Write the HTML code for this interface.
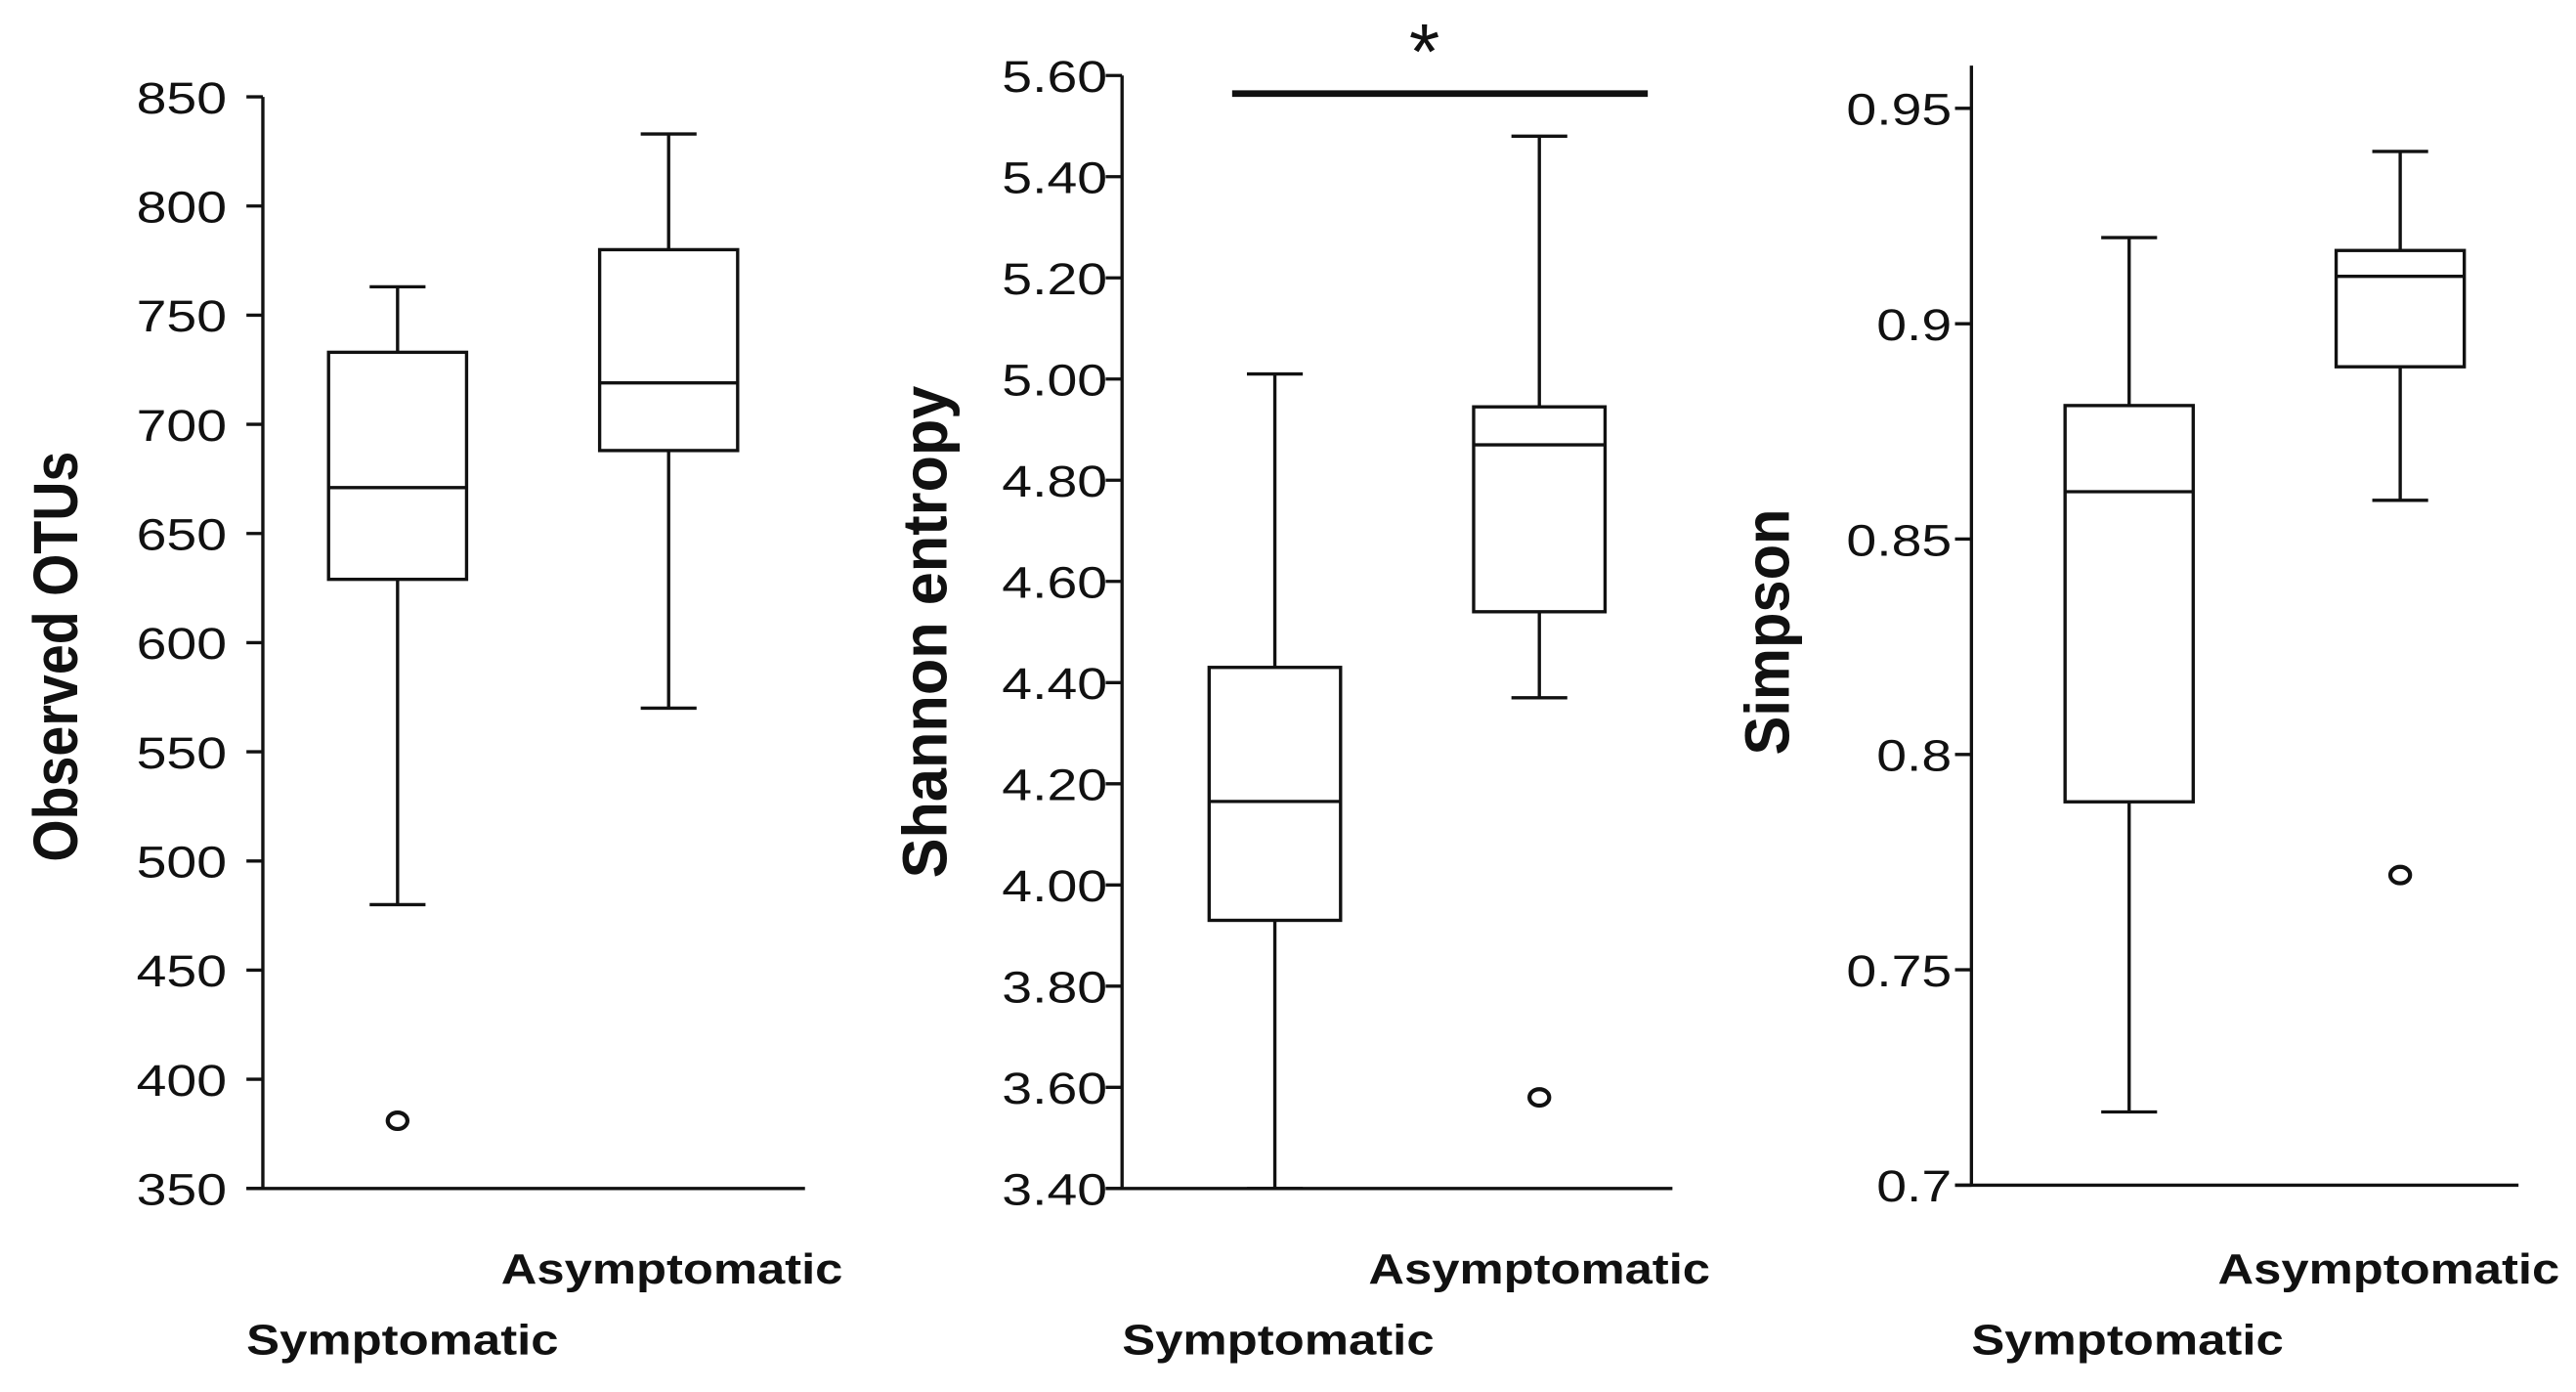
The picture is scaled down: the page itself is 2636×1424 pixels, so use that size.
<!DOCTYPE html>
<html><head><meta charset="utf-8"><style>
html,body{margin:0;padding:0;background:#fff;}
svg{display:block;}
text{font-family:"Liberation Sans",sans-serif;fill:#111;}
</style></head><body>
<svg id="chart" width="2636" height="1424" viewBox="0 0 1568 848" preserveAspectRatio="none" xmlns="http://www.w3.org/2000/svg"></svg>
<script>
const categories = ["Symptomatic", "Asymptomatic"];
// [whiskerLow, q1, median, q3, whiskerHigh]
const otuStats = [[480, 629, 671, 733, 763], [570, 688, 719, 780, 833]];
const otuOutliers = [[381], []];
const otuTicks = ["350","400","450","500","550","600","650","700","750","800","850"];
const shannonStats = [[3.40, 3.93, 4.165, 4.43, 5.01], [4.37, 4.54, 4.87, 4.945, 5.48]];
const shannonOutliers = [[], [3.58]];
const shannonTicks = ["3.40","3.60","3.80","4.00","4.20","4.40","4.60","4.80","5.00","5.20","5.40","5.60"];
const simpsonStats = [[0.717, 0.789, 0.861, 0.881, 0.920], [0.859, 0.890, 0.911, 0.917, 0.940]];
const simpsonOutliers = [[], [0.772]];
const simpsonTicks = ["0.7","0.75","0.8","0.85","0.9","0.95"];

const svg = document.getElementById('chart');
const NS = 'http://www.w3.org/2000/svg';
function mk(tag, attrs, parent) {
  const e = document.createElementNS(NS, tag);
  for (const k in attrs) e.setAttribute(k, attrs[k]);
  (parent || svg).appendChild(e);
  return e;
}
const panels = [
  {key:'otu', title:'Observed OTUs', stats:otuStats, outl:otuOutliers, ticks:otuTicks,
   ax:160, axEnd:490, yTop:59, yBot:724, vMin:350, vMax:850, axTop:59, centers:[242,407], bw:84,
   titleX:33, titleY:400, titleLen:250, symX:150, asymX:305, labRight:138},
  {key:'shannon', title:'Shannon entropy', stats:shannonStats, outl:shannonOutliers, ticks:shannonTicks,
   ax:683, axEnd:1018, yTop:46, yBot:724, vMin:3.4, vMax:5.6, axTop:46, centers:[776,937], bw:80,
   titleX:562, titleY:385, titleLen:300, symX:683, asymX:833, labRight:674, sig:true},
  {key:'simpson', title:'Simpson', stats:simpsonStats, outl:simpsonOutliers, ticks:simpsonTicks,
   ax:1200, axEnd:1533, yTop:66, yBot:722, vMin:0.7, vMax:0.95, axTop:40, centers:[1296,1461], bw:78,
   titleX:1075, titleY:385, titleLen:150, symX:1200, asymX:1350, labRight:1188}
];
panels.forEach(p => {
  const g = mk('g', {});
  
  
  const y = v => p.yBot - (v - p.vMin) / (p.vMax - p.vMin) * (p.yBot - p.yTop);
  const yAx = mk('line', {x1:p.ax, y1:p.axTop, x2:p.ax, y2:p.yBot, stroke:'#111', 'stroke-width':2}, g);
  
  
  const xAx = mk('line', {x1:p.ax - 10, y1:p.yBot, x2:p.axEnd, y2:p.yBot, stroke:'#111', 'stroke-width':2}, g);
  
  
  p.ticks.forEach(t => {
    const yy = y(parseFloat(t));
    mk('line', {x1:p.ax - 10, y1:yy, x2:p.ax, y2:yy, stroke:'#111', 'stroke-width':2}, g);
    const tx = mk('text', {x:0, y:0, 'text-anchor':'end', 'font-size':27,
      transform:`translate(${p.labRight},${yy + 10}) scale(1.22,1)`}, g);
    tx.textContent = t;
    
    
  });
  const tt = mk('text', {x:0, y:0, 'text-anchor':'middle', 'font-size':38, 'font-weight':'bold',
    textLength:p.titleLen, lengthAdjust:'spacingAndGlyphs',
    transform:`translate(${p.titleX + 14},${p.titleY}) rotate(-90)`}, g);
  tt.textContent = p.title;
  
  
  p.stats.forEach((s, i) => {
    const cx = p.centers[i], hw = p.bw / 2, cap = 17;
    const bg = mk('g', {stroke:'#111', 'stroke-width':2, fill:'none'}, g);
    
    
    mk('line', {x1:cx, y1:y(s[0]), x2:cx, y2:y(s[1])}, bg);
    mk('line', {x1:cx, y1:y(s[3]), x2:cx, y2:y(s[4])}, bg);
    mk('line', {x1:cx - cap, y1:y(s[0]), x2:cx + cap, y2:y(s[0])}, bg);
    mk('line', {x1:cx - cap, y1:y(s[4]), x2:cx + cap, y2:y(s[4])}, bg);
    mk('rect', {x:cx - hw, y:y(s[3]), width:p.bw, height:y(s[1]) - y(s[3])}, bg);
    mk('line', {x1:cx - hw, y1:y(s[2]), x2:cx + hw, y2:y(s[2])}, bg);
    p.outl[i].forEach(o => {
      const c = mk('ellipse', {cx:cx, cy:y(o), rx:6, ry:5, stroke:'#111', 'stroke-width':2.5, fill:'#fff'}, g);
      
      
    });
  });
  const la = mk('text', {x:p.asymX, y:782, 'font-size':26, 'font-weight':'bold', textLength:208, lengthAdjust:'spacingAndGlyphs'}, g);
  la.textContent = categories[1];
  
  
  const ls = mk('text', {x:p.symX, y:825, 'font-size':26, 'font-weight':'bold', textLength:190, lengthAdjust:'spacingAndGlyphs'}, g);
  ls.textContent = categories[0];
  
  
  if (p.sig) {
    const sl = mk('line', {x1:750, y1:57, x2:1003, y2:57, stroke:'#111', 'stroke-width':4}, g);
    
    
    const st = mk('text', {x:867, y:48, 'text-anchor':'middle', 'font-size':48}, g);
    st.textContent = '*';
    
    
  }
});
</script>
</body></html>
